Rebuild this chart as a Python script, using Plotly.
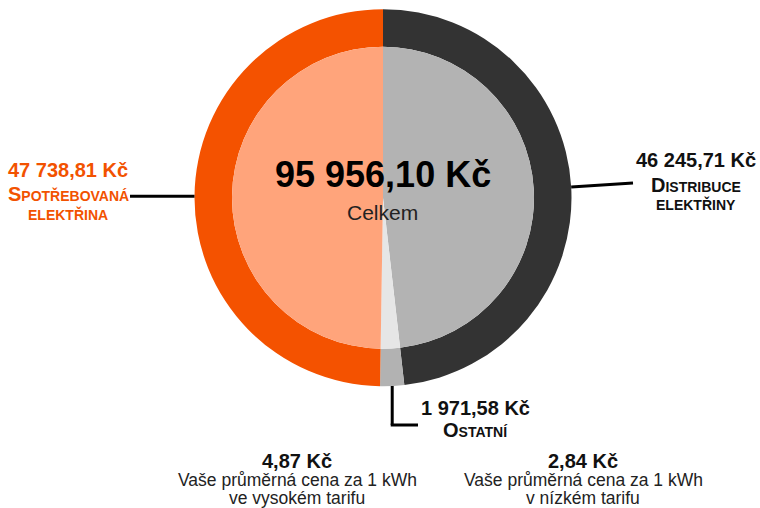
import math
import plotly.graph_objects as go

# ---- data ----
categories = ["Distribuce elektřiny", "Ostatní", "Spotřebovaná elektřina"]
values = [46245.71, 1971.58, 47738.81]
amount_labels = ["46 245,71 Kč", "1 971,58 Kč", "47 738,81 Kč"]
name_lines = [["Distribuce", "elektřiny"], ["Ostatní"], ["Spotřebovaná", "elektřina"]]
total_label = "95 956,10 Kč"
total_caption = "Celkem"
tariff_prices = ["4,87 Kč", "2,84 Kč"]
tariff_lines = [["Vaše průměrná cena za 1 kWh", "ve vysokém tarifu"],
                ["Vaše průměrná cena za 1 kWh", "v nízkém tarifu"]]

# ---- styles ----
W, H = 760, 508
outer_colors = ["#333333", "#b2b2b2", "#f45200"]
inner_colors = ["#b3b3b3", "#e6e6e6", "#ffa47b"]
FONT = "Liberation Sans, Arial, sans-serif"
CX, CY, R_OUT, R_IN = 383, 197.7, 188.5, 151

def px(x):
    return x / W

def py(y):
    return 1 - y / H

def dom(r):
    return dict(x=[px(CX - r), px(CX + r)], y=[py(CY + r), py(CY - r)])

fig = go.Figure()
fig.add_trace(go.Pie(labels=categories, values=values, sort=False,
                     direction="clockwise", rotation=0,
                     hole=R_IN / R_OUT, domain=dom(R_OUT),
                     marker=dict(colors=outer_colors, line=dict(width=0)),
                     textinfo="none", hoverinfo="label+value", showlegend=False))
fig.add_trace(go.Pie(labels=categories, values=values, sort=False,
                     direction="clockwise", rotation=0,
                     domain=dom(R_IN),
                     marker=dict(colors=inner_colors, line=dict(width=0)),
                     textinfo="none", hoverinfo="label+value", showlegend=False))

# mid angles of slices (clockwise from top)
total = sum(values)
mids = []
acc = 0
for v in values:
    mids.append((acc + v / 2) / total * 2 * math.pi)
    acc += v
edge = [(CX + R_OUT * math.sin(a), CY - R_OUT * math.cos(a)) for a in mids]

shapes = []
def seg(x0, y0, x1, y1):
    shapes.append(dict(type="line", xref="paper", yref="paper",
                       x0=px(x0), y0=py(y0), x1=px(x1), y1=py(y1),
                       line=dict(color="#000000", width=3)))

# Distribuce (right)
seg(edge[0][0], edge[0][1], 633, 183)
# Ostatní (bottom)
seg(edge[1][0], edge[1][1], edge[1][0], 425)
seg(edge[1][0] - 1.5, 425, 418, 425)
# Spotřebovaná (left)
seg(edge[2][0], edge[2][1], 130, edge[2][1])

annotations = []
def txt(text, x, y_base, size, color="#111111", weight="normal", variant="normal"):
    annotations.append(dict(text=text, xref="paper", yref="paper",
                            x=px(x), y=py(y_base - 0.35 * size),
                            xanchor="center", yanchor="middle", showarrow=False,
                            font=dict(family=FONT, size=size, color=color,
                                      weight=weight, variant=variant)))

orange = "#f25200"
# center
txt(total_label, 383, 187, 36, "#000000", "bold")
txt(total_caption, 383, 220, 21, "#222222")
# left
txt(amount_labels[2], 68, 177, 20, orange, "bold")
txt(name_lines[2][0], 68, 201, 20, orange, "bold", "small-caps")
txt(name_lines[2][1], 68, 220, 20, orange, "bold", "small-caps")
# right
txt(amount_labels[0], 696, 167, 20, "#111111", "bold")
txt(name_lines[0][0], 696, 192, 20, "#111111", "bold", "small-caps")
txt(name_lines[0][1], 696, 210, 20, "#111111", "bold", "small-caps")
# bottom ostatní
txt(amount_labels[1], 475, 415, 20, "#111111", "bold")
txt(name_lines[1][0], 476, 437, 20, "#111111", "bold", "small-caps")
# tariffs
for cx, price, lines in zip([297, 583], tariff_prices, tariff_lines):
    txt(price, cx, 468, 20, "#111111", "bold")
    txt(lines[0], cx, 486, 17.5, "#222222")
    txt(lines[1], cx, 504, 17.5, "#222222")

fig.update_layout(width=W, height=H, margin=dict(l=0, r=0, t=0, b=0),
                  paper_bgcolor="white", plot_bgcolor="white",
                  shapes=shapes, annotations=annotations, showlegend=False)
fig.write_html("out.html", config={"displayModeBar": False},
               post_script="document.body.style.margin='0';document.body.style.overflow='hidden';")
